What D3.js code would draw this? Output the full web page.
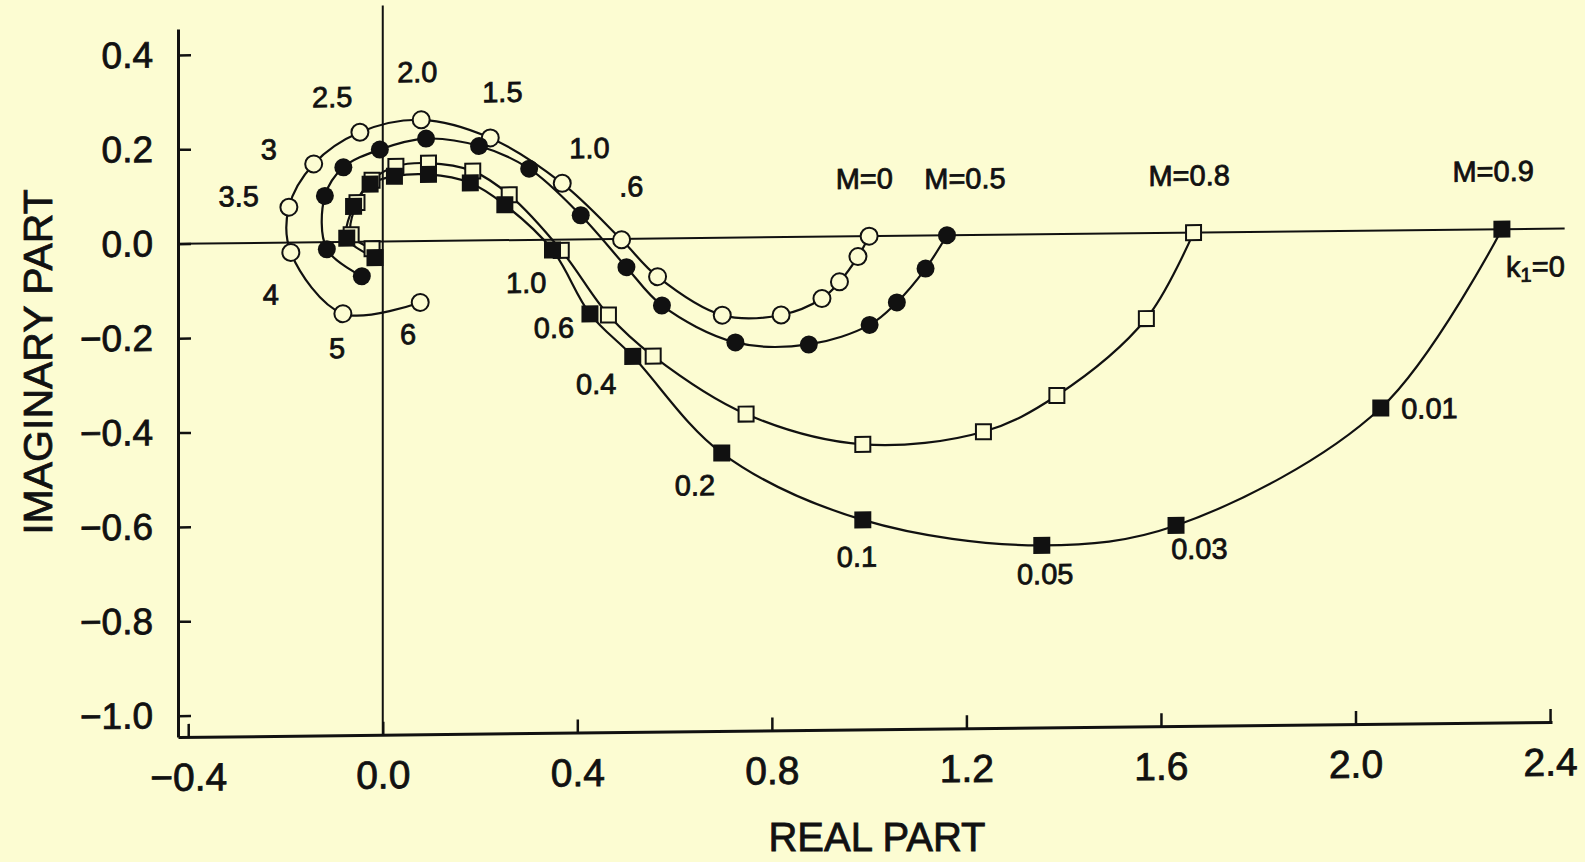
<!DOCTYPE html>
<html lang="en">
  <head>
    <meta charset="utf-8">
    <title>Real part vs imaginary part</title>
    <script src="https://d3js.org/d3.v7.js"></script>
    <style>
      body { margin: 0; background: #fcfcd2; }
      svg { display: block; font-family: "Liberation Sans", Arial, Helvetica, sans-serif; }
      text { stroke: #111; stroke-width: 0.8px; }
    </style>
  </head>

  <body>
    <svg></svg>

  <script>

// Size and colours

  var w = 1585;
  var h = 862;
  var bg = "#fcfcd2";
  var ink = "#111";

// Data: [real part, imaginary part], starting at k1 = 0

  var m0 = [[1.000, 0.000], [0.977, -0.043], [0.939, -0.096], [0.903, -0.131],
            [0.819, -0.165], [0.698, -0.164], [0.565, -0.081], [0.491, -0.002],
            [0.369, 0.119], [0.221, 0.217], [0.079, 0.257], [-0.047, 0.232],
            [-0.142, 0.166], [-0.193, 0.075], [-0.189, -0.021], [-0.082, -0.152],
            [0.077, -0.130]];

  var m05 = [[1.160, 0.000], [1.116, -0.070], [1.057, -0.141], [1.001, -0.188],
             [0.876, -0.228], [0.725, -0.222], [0.574, -0.142], [0.501, -0.060],
             [0.407, 0.051], [0.301, 0.151], [0.198, 0.200], [0.089, 0.217],
             [-0.006, 0.195], [-0.081, 0.158], [-0.119, 0.098], [-0.115, -0.015],
             [-0.043, -0.073]];

  var m08 = [[1.667, 0.000], [1.570, -0.181], [1.386, -0.342], [1.235, -0.417],
             [0.987, -0.441], [0.747, -0.374], [0.556, -0.249], [0.464, -0.161],
             [0.367, -0.023], [0.260, 0.096], [0.185, 0.147], [0.094, 0.165],
             [0.027, 0.159], [-0.022, 0.130], [-0.053, 0.083], [-0.065, 0.015],
             [-0.022, -0.015]];

  var m09 = [[2.301, 0.000], [2.052, -0.376], [1.631, -0.620], [1.355, -0.659],
             [0.987, -0.601], [0.697, -0.456], [0.514, -0.249], [0.426, -0.158],
             [0.349, -0.022], [0.251, 0.075], [0.180, 0.122], [0.094, 0.141],
             [0.024, 0.138], [-0.026, 0.122], [-0.060, 0.075], [-0.074, 0.008],
             [-0.016, -0.034]];

  var xTicks = [-0.4, 0.0, 0.4, 0.8, 1.2, 1.6, 2.0, 2.4];
  var yTicks = [0.4, 0.2, 0.0, -0.2, -0.4, -0.6, -0.8, -1.0];

// Labels placed in data units

  var curveLabels = [{text: "M=0", x: 0.990, y: 0.122},
                     {text: "M=0.5", x: 1.197, y: 0.120},
                     {text: "M=0.8", x: 1.658, y: 0.121},
                     {text: "M=0.9", x: 2.283, y: 0.123}];

  var k1Labels = [{text: "0.01", x: 2.152, y: -0.378},
                  {text: "0.03", x: 1.679, y: -0.670},
                  {text: "0.05", x: 1.362, y: -0.720},
                  {text: "0.1", x: 0.975, y: -0.679},
                  {text: "0.2", x: 0.642, y: -0.524},
                  {text: "0.4", x: 0.439, y: -0.307},
                  {text: "0.6", x: 0.352, y: -0.187},
                  {text: "1.0", x: 0.295, y: -0.091},
                  {text: ".6", x: 0.511, y: 0.111},
                  {text: "1.0", x: 0.425, y: 0.193},
                  {text: "1.5", x: 0.246, y: 0.314},
                  {text: "2.0", x: 0.071, y: 0.358},
                  {text: "2.5", x: -0.104, y: 0.307},
                  {text: "3", x: -0.234, y: 0.198},
                  {text: "3.5", x: -0.296, y: 0.099},
                  {text: "4", x: -0.230, y: -0.110},
                  {text: "5", x: -0.094, y: -0.225},
                  {text: "6", x: 0.052, y: -0.197}];

  var k1Zero = {x: 2.370, y: -0.080};

// Scales

  var xScale = d3.scaleLinear()
      .domain([-0.421, 2.404])
      .range([178, 1552]);

  var yScale = d3.scaleLinear()
      .domain([-1.045, 0.455])
      .range([737, 29]);

  var svg = d3.select("svg")
      .attr("width", w)
      .attr("height", h);

  svg.append("rect")
      .attr("width", w)
      .attr("height", h)
      .attr("fill", bg);

// The printed figure is slightly skewed, so the plot group is too

  var plot = svg.append("g")
      .attr("transform", "translate(0,1.96) skewY(-0.63)");

// Axes

  var xAxis = d3.axisBottom(xScale)
      .tickValues(xTicks)
      .tickFormat(d3.format(".1f"))
      .tickSizeInner(-13)
      .tickSizeOuter(0)
      .tickPadding(26);

  var yAxis = d3.axisLeft(yScale)
      .tickValues(yTicks)
      .tickFormat(d3.format(".1f"))
      .tickSizeInner(-13)
      .tickSizeOuter(0)
      .tickPadding(25);

  var gx = plot.append("g")
      .attr("transform", `translate(0, ${yScale.range()[0]})`)
      .call(xAxis);

  var gy = plot.append("g")
      .attr("transform", `translate(${xScale.range()[0]}, 0)`)
      .call(yAxis);

  [gx, gy].forEach(function(g) {
    g.select(".domain").attr("stroke", ink).attr("stroke-width", 3);
    g.selectAll(".tick line").attr("stroke", ink).attr("stroke-width", 2.5);
    g.selectAll(".tick text")
        .attr("fill", ink)
        .attr("font-size", 37)
        .attr("font-family", "'Liberation Sans', Arial, sans-serif");
  });

  gx.selectAll(".tick text").attr("font-size", 39);

// Zero lines

  plot.append("line")
      .attr("x1", xScale(-0.421))
      .attr("x2", xScale(2.43))
      .attr("y1", yScale(0))
      .attr("y2", yScale(0))
      .attr("stroke", ink)
      .attr("stroke-width", 2);

  plot.append("line")
      .attr("x1", xScale(0))
      .attr("x2", xScale(0))
      .attr("y1", yScale(0.5))
      .attr("y2", yScale(-1.045))
      .attr("stroke", ink)
      .attr("stroke-width", 2);

// Curves

  var line = d3.line()
      .x(d => xScale(d[0]))
      .y(d => yScale(d[1]))
      .curve(d3.curveCatmullRom.alpha(0.5));

  [m0, m05, m08, m09].forEach(function(series) {
    plot.append("path")
        .datum(series)
        .attr("d", line)
        .attr("fill", "none")
        .attr("stroke", ink)
        .attr("stroke-width", 2.2);
  });

// Markers

  plot.append("g").selectAll("circle")
      .data(m0)
    .enter().append("circle")
      .attr("cx", d => xScale(d[0]))
      .attr("cy", d => yScale(d[1]))
      .attr("r", 8.5)
      .attr("fill", bg)
      .attr("stroke", ink)
      .attr("stroke-width", 2);

  plot.append("g").selectAll("circle")
      .data(m05)
    .enter().append("circle")
      .attr("cx", d => xScale(d[0]))
      .attr("cy", d => yScale(d[1]))
      .attr("r", 9)
      .attr("fill", ink);

  var openSide = 15;
  var fillSide = 17;

  plot.append("g").selectAll("rect")
      .data(m08)
    .enter().append("rect")
      .attr("x", d => xScale(d[0]) - openSide / 2)
      .attr("y", d => yScale(d[1]) - openSide / 2)
      .attr("width", openSide)
      .attr("height", openSide)
      .attr("fill", bg)
      .attr("stroke", ink)
      .attr("stroke-width", 2);

  plot.append("g").selectAll("rect")
      .data(m09)
    .enter().append("rect")
      .attr("x", d => xScale(d[0]) - fillSide / 2)
      .attr("y", d => yScale(d[1]) - fillSide / 2)
      .attr("width", fillSide)
      .attr("height", fillSide)
      .attr("fill", ink);

// Annotations

  plot.append("g").selectAll("text")
      .data(curveLabels.concat(k1Labels))
    .enter().append("text")
      .attr("x", d => xScale(d.x))
      .attr("y", d => yScale(d.y))
      .attr("text-anchor", "middle")
      .attr("dominant-baseline", "central")
      .attr("font-size", 29)
      .attr("fill", ink)
      .text(d => d.text);

  var kz = plot.append("text")
      .attr("x", xScale(k1Zero.x))
      .attr("y", yScale(k1Zero.y))
      .attr("text-anchor", "middle")
      .attr("dominant-baseline", "central")
      .attr("font-size", 29)
      .attr("fill", ink);
  kz.append("tspan").text("k");
  kz.append("tspan").attr("font-size", 20).attr("dy", 8).text("1");
  kz.append("tspan").attr("dy", -8).text("=0");

// Axis titles

  svg.append("text")
      .attr("transform", "translate(38, 362) rotate(-90)")
      .attr("text-anchor", "middle")
      .attr("dominant-baseline", "central")
      .attr("font-size", 41)
      .attr("fill", ink)
      .text("IMAGINARY PART");

  svg.append("text")
      .attr("x", 877)
      .attr("y", 837)
      .attr("text-anchor", "middle")
      .attr("dominant-baseline", "central")
      .attr("font-size", 40)
      .attr("fill", ink)
      .text("REAL PART");

    </script>

  </body>

</html>
